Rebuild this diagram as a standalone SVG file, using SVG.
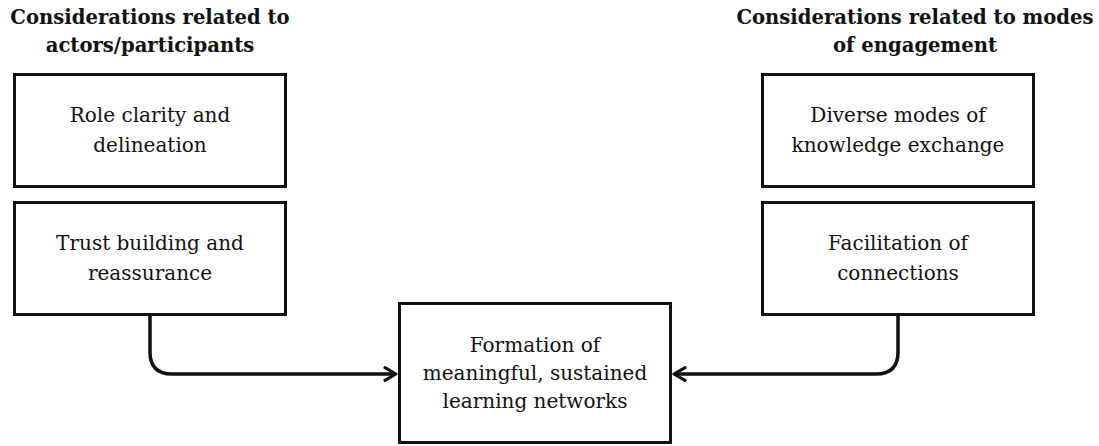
<svg xmlns="http://www.w3.org/2000/svg" width="1099" height="446" viewBox="0 0 1099 446">
<style>
.box{fill:#fff;stroke:#111;stroke-width:3}
.t{font-family:"DejaVu Serif",serif;font-size:20px;fill:#111;text-anchor:middle}
.h{font-family:"DejaVu Serif",serif;font-size:19.6px;font-weight:bold;fill:#111;text-anchor:middle}
.c{fill:none;stroke:#111;stroke-width:3.5}
</style>
<defs>
<marker id="ah" viewBox="0 0 10 10" refX="8" refY="5" markerWidth="4.5" markerHeight="4.5" orient="auto" markerUnits="strokeWidth">
<path d="M1,1 L8,5 L1,9" fill="none" stroke="#111" stroke-width="2" stroke-linecap="round" stroke-linejoin="round"/>
</marker>
</defs>
<g id="title-left">
<text class="h" x="150" y="24">Considerations related to</text>
<text class="h" x="150" y="52">actors/participants</text>
</g>
<g id="title-right">
<text class="h" x="915" y="24">Considerations related to modes</text>
<text class="h" x="915" y="52">of engagement</text>
</g>
<g id="n1">
<rect class="box" x="14.5" y="74.5" width="271" height="112"/>
<text class="t" x="150" y="122">Role clarity and</text>
<text class="t" x="150" y="152">delineation</text>
</g>
<g id="n2">
<rect class="box" x="14.5" y="202.5" width="271" height="112"/>
<text class="t" x="150" y="250">Trust building and</text>
<text class="t" x="150" y="280">reassurance</text>
</g>
<g id="n3">
<rect class="box" x="762.5" y="74.5" width="271" height="112"/>
<text class="t" x="898" y="122">Diverse modes of</text>
<text class="t" x="898" y="152">knowledge exchange</text>
</g>
<g id="n4">
<rect class="box" x="762.5" y="202.5" width="271" height="112"/>
<text class="t" x="898" y="250">Facilitation of</text>
<text class="t" x="898" y="280">connections</text>
</g>
<g id="n5">
<rect class="box" x="399.5" y="303.5" width="271" height="139"/>
<text class="t" x="535" y="352">Formation of</text>
<text class="t" x="535" y="380">meaningful, sustained</text>
<text class="t" x="535" y="408">learning networks</text>
</g>
<g id="connectors">
<path class="c" d="M150,316 V352 Q150,374 172,374 H396" marker-end="url(#ah)"/>
<path class="c" d="M898,316 V352 Q898,374 876,374 H674" marker-end="url(#ah)"/>
</g>
</svg>
